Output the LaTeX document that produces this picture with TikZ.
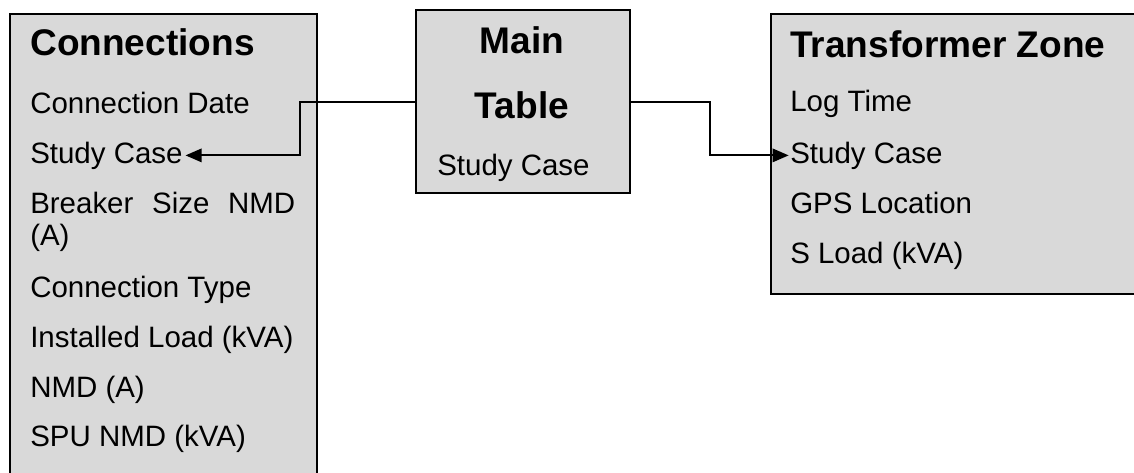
\documentclass[tikz,border=0pt]{standalone}
\usepackage{fontspec}
\setmainfont{Liberation Sans}
\usetikzlibrary{arrows.meta}
\tikzset{
  tbl/.style={draw=black, line width=1.5pt, fill=boxgray, anchor=north west, inner sep=0pt},
  item/.style={anchor=base west, inner sep=0pt, font=\fontsize{22.1}{26}\selectfont},
  head/.style={anchor=base west, inner sep=0pt, font=\bfseries\fontsize{27.8}{33}\selectfont},
  link/.style={draw=black, line width=1.5pt, -{Triangle[length=12pt,width=10pt]}},
}
\definecolor{boxgray}{HTML}{D9D9D9}
\begin{document}
\begin{tikzpicture}[x=0.75pt,y=-0.75pt]
\path[use as bounding box, clip] (0,0) rectangle (1134,472);
\fill[white] (0,0) rectangle (1134,472);
% boxes
\node[tbl, minimum width={307*0.75pt}, minimum height={480*0.75pt}] (conn) at (9,13) {};
\node[tbl, minimum width={214*0.75pt}, minimum height={183*0.75pt}] (main) at (415,9) {};
\node[tbl, minimum width={380*0.75pt}, minimum height={280*0.75pt}] (trz) at (770,13) {};
% Connections
\node[head] (connh) at (30,55) {Connections};
\node[item] (lcd) at (30,113) {Connection Date};
\node[item] (lsc) at (30,163) {Study Case};
\node[item] (lbs) at (30,213) {\makebox[198.75pt][s]{Breaker\hfill Size\hfill NMD}};
\node[item] (lbsa) at (30,245) {(A)};
\node[item] (lct) at (30,297) {Connection Type};
\node[item] (lil) at (30,347) {Installed Load (kVA)};
\node[item] (lnmd) at (30,397) {NMD (A)};
\node[item] (lspu) at (30,446) {SPU NMD (kVA)};
% Main table
\node[head, anchor=base] (mh1) at (522,53) {Main};
\node[head, anchor=base] (mh2) at (522,118) {Table};
\node[item] (msc) at (437,175) {Study Case};
% Transformer zone
\node[head] (trzh) at (790,57) {Transformer Zone};
\node[item] (rlt) at (790,111) {Log Time};
\node[item] (rsc) at (790,163) {Study Case};
\node[item] (rgps) at (790,213) {GPS Location};
\node[item] (rsl) at (790,263) {S Load (kVA)};
% connectors
\draw[link, shorten >=2pt] (main.west) -- ++(-115,0) |- (lsc.east);
\draw[link, shorten >=1pt] (main.east) -- ++(79,0) |- (rsc.west);
\end{tikzpicture}
\end{document}
